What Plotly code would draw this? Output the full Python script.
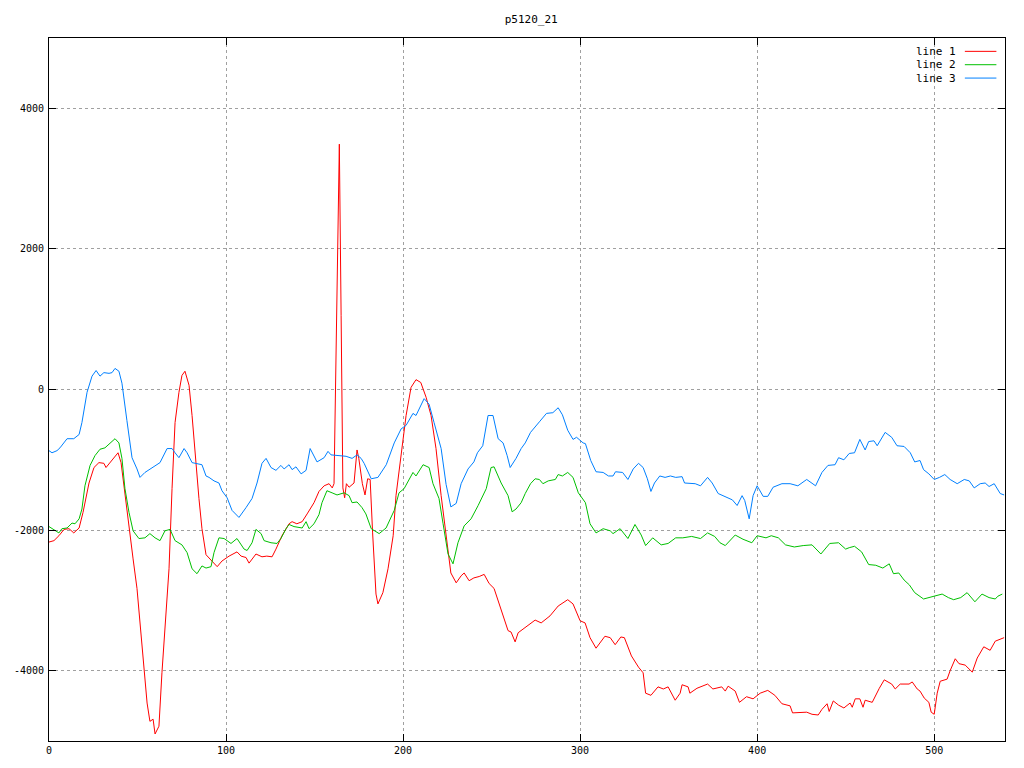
import plotly.graph_objects as go

title_text = "p5120_21"
series_names = ["line 1", "line 2", "line 3"]
series_colors = ["#ff0000", "#00c000", "#0080ff"]

x_ticks = [0, 100, 200, 300, 400, 500]
y_ticks = [-4000, -2000, 0, 2000, 4000]

# line 1 (red)
line1_x = [0, 2.8, 5.6, 8.5, 11.3, 14, 17, 19.2, 22.6, 25.4, 28.2, 31, 32.2, 34.5, 36.7, 39, 40.7, 42.9, 45.2, 47.5,
           49.7, 51.4, 53.7, 55.4, 57, 58.8, 59.9, 62.1, 63.8, 65.5, 67.8, 69.5, 71.2, 73.4, 75.1, 76.8, 79.1, 80.8,
           82.5, 84.7, 86.4, 88.7, 92, 95, 97.7, 101.7, 106.2, 108.5, 111.3, 113, 116.9, 120.3, 123, 126, 128.2,
           131.6, 135.6, 137.3, 140, 143, 145.8, 149.7, 152.5, 155.4, 158.2, 160, 161, 162, 163, 164, 165, 166, 167,
           168, 169.5, 172.3, 174, 175, 177, 178.5, 180, 181.4, 182.8, 184.7, 185.8, 188.6, 191.5, 194.4, 196,
           198.9, 201.7, 204.5, 207.3, 210, 213, 215.8, 218.6, 221.5, 224.3, 227, 230, 232.8, 234.5, 237.3, 240,
           243, 245.8, 248.6, 251.4, 255.4, 259.3, 261, 263.3, 265, 270.6, 274.6, 278, 283, 287.6, 293, 296, 300,
           302.8, 305.6, 309, 314, 317, 319.8, 323, 325, 329, 333, 335.6, 337, 340, 344, 347, 349.7, 353.7, 356.5,
           357.6, 361, 362, 366, 372, 375, 380, 382, 383.6, 387.6, 390, 394, 397.7, 401.7, 406, 410, 414, 418.6,
           420, 424, 428, 431, 434.5, 436.6, 439.5, 440.7, 443, 446, 449, 452.5, 453.7, 455.4, 458, 459.8, 461,
           465, 466.7, 469, 471.8, 476, 478, 480.8, 485.8, 487.6, 490.4, 492, 494.4, 497, 498.3, 500, 501.7, 503.4,
           507.3, 509, 511.9, 514, 517.5, 521.5, 524.3, 528, 531.6, 534.5, 539.5]
line1_y = [-2170, -2150, -2080, -1990, -1980, -2040, -1970, -1750, -1330, -1110, -1040, -1050, -1110, -1040, -980,
           -900, -1040, -1510, -1980, -2410, -2830, -3320, -4030, -4460, -4720, -4690, -4900, -4790, -4030, -3410,
           -2550, -1410, -470, -40, 200, 260, 60, -370, -940, -1550, -1980, -2350, -2440, -2520, -2440, -2370,
           -2310, -2370, -2390, -2470, -2340, -2380, -2370, -2380, -2270, -2080, -1910, -1880, -1910, -1880, -1770,
           -1610, -1450, -1370, -1340, -1400, -1340, 310, 2420, 3490, 1050, -1400, -1540, -1340, -1390, -1330, -860,
           -980, -1340, -1500, -1270, -1280, -2040, -2910, -3050, -2890, -2550, -2080, -1510, -940, -370, 30, 140,
           100, -110, -370, -840, -1510, -2080, -2610, -2750, -2650, -2610, -2720, -2680, -2660, -2630, -2760,
           -2830, -3120, -3430, -3450, -3590, -3460, -3360, -3280, -3320, -3220, -3080, -2990, -3050, -3290, -3320,
           -3530, -3680, -3510, -3530, -3630, -3520, -3530, -3790, -3950, -4030, -4320, -4350, -4230, -4260, -4230,
           -4420, -4320, -4200, -4230, -4320, -4250, -4190, -4260, -4230, -4290, -4220, -4290, -4450, -4370, -4400,
           -4320, -4280, -4350, -4470, -4500, -4600, -4590, -4590, -4620, -4630, -4550, -4470, -4580, -4430, -4490,
           -4530, -4460, -4520, -4400, -4400, -4520, -4420, -4450, -4360, -4250, -4130, -4190, -4260, -4190, -4190,
           -4160, -4260, -4290, -4390, -4450, -4590, -4620, -4320, -4150, -4120, -4000, -3830, -3900, -3920, -4020,
           -3820, -3660, -3710, -3580, -3530]

# line 2 (green)
line2_x = [0, 3.4, 5.6, 7.3, 10.2, 13, 14.7, 17, 18.6, 20.3, 23.2, 26, 28.8, 31.6, 34.5, 37.3, 39.5, 41.2, 42.9,
           45.2, 47.5, 50.8, 54.2, 57, 59.9, 62.7, 65.5, 68.4, 71.2, 75.1, 78, 80.8, 83.6, 86.4, 88.7, 91.5, 93.2,
           96, 98.9, 102.8, 106.2, 110.2, 111.9, 114.7, 116.9, 119.8, 121.5, 125.4, 128.8, 131, 133.9, 135.6, 138.4,
           143, 145.2, 146.9, 149.7, 152.5, 154.2, 157, 159.9, 162.7, 166.7, 169.5, 171.2, 174, 176.8, 179, 182,
           186.5, 190.4, 195, 197.7, 200.6, 205.6, 207.3, 211.3, 214.7, 216.9, 220.3, 222.6, 225.4, 228.2, 231,
           234.5, 238.4, 242.4, 247, 249.7, 251.4, 255.4, 259.3, 261.6, 263.8, 266.7, 269, 272, 274.6, 277, 279,
           282, 286, 287.6, 290, 293, 296, 299, 303, 305.6, 309, 313, 317, 318.6, 322.6, 327, 331, 334.5, 337, 341,
           345.8, 349.7, 354, 358, 363, 368, 372, 376, 379, 382, 387.6, 392, 397, 400, 405, 408, 412, 416, 421,
           426, 431, 436, 441, 446, 450, 452, 455, 459, 463, 467, 471, 474.6, 477, 480, 483, 486, 489, 494, 497,
           500, 504.5, 508, 511, 515, 518.6, 523, 527, 531, 534.5, 536, 538.5]
line2_y = [-1950, -2000, -2040, -1980, -1970, -1900, -1910, -1840, -1700, -1370, -1080, -940, -850, -830, -770,
           -700, -760, -980, -1410, -1750, -2010, -2120, -2110, -2050, -2110, -2150, -2010, -1990, -2150, -2210,
           -2320, -2550, -2620, -2510, -2540, -2520, -2320, -2110, -2120, -2190, -2120, -2270, -2290, -2180, -1990,
           -2050, -2150, -2180, -2190, -2120, -1980, -1920, -1950, -1970, -1880, -1980, -1910, -1780, -1610, -1440,
           -1470, -1500, -1470, -1510, -1610, -1600, -1680, -1770, -1980, -2050, -1970, -1720, -1470, -1410, -1180,
           -1230, -1070, -1110, -1340, -1550, -1910, -2340, -2480, -2180, -1940, -1840, -1650, -1410, -1110, -1100,
           -1330, -1510, -1740, -1700, -1610, -1480, -1340, -1270, -1280, -1340, -1300, -1280, -1210, -1230, -1180,
           -1250, -1470, -1610, -1910, -2040, -1980, -2010, -2050, -1980, -2120, -1920, -2070, -2220, -2110, -2210,
           -2190, -2110, -2110, -2090, -2120, -2040, -2090, -2180, -2220, -2070, -2130, -2180, -2080, -2110, -2080,
           -2110, -2210, -2240, -2220, -2210, -2340, -2190, -2180, -2270, -2250, -2230, -2310, -2490, -2500, -2540,
           -2480, -2620, -2610, -2710, -2780, -2890, -2980, -2960, -2950, -2910, -2960, -2990, -2960, -2890, -3020,
           -2910, -2960, -2980, -2940, -2910]

# line 3 (blue)
line3_x = [0, 1.7, 4.5, 6.2, 10.2, 14, 17, 18.6, 21.5, 24.3, 26.6, 28.8, 31, 33.9, 35.6, 37.3, 39.5, 41.2, 44,
           46.9, 49.7, 51.4, 54.2, 57, 59.3, 62.7, 66.7, 69.5, 71.2, 73.4, 76.3, 78, 80.8, 83.6, 86.4, 88.7, 90.4,
           93.2, 96, 97.7, 100.6, 103.4, 107.3, 111.3, 114.7, 117.5, 120.3, 122.6, 125.4, 128.2, 131, 132.8, 135.6,
           137.3, 139.5, 142.4, 145.2, 147.5, 151.4, 155.4, 157.6, 159.3, 162.7, 167.8, 171.2, 174, 176.3, 178,
           182, 185.8, 190.5, 195, 198.9, 201.7, 205.6, 207.3, 211.9, 214.7, 217.5, 221.5, 224.3, 227, 230, 232.8,
           236.7, 240, 242, 245, 248, 250.8, 253.7, 256.5, 258.8, 260.5, 263.8, 266.7, 269, 272, 277, 281, 284.6,
           287.6, 290, 293, 296, 298, 301.7, 303, 306, 309, 313, 316, 318.6, 320, 324, 327, 330, 333, 335.6, 338,
           340, 342, 345, 348, 351, 354, 357.6, 359, 365, 368, 372, 374.6, 378, 383.6, 386, 388.7, 391.5, 393,
           395.5, 397.7, 400, 403.4, 406, 409, 414, 418.6, 423, 428, 433, 436.6, 440, 444, 446, 449, 452, 455, 458,
           461, 463, 466, 467.8, 472.3, 476, 479, 483, 486.5, 489, 492, 494, 497, 500, 503, 506, 509, 513, 517,
           519.8, 522.6, 526, 528.8, 531, 533.9, 537.3, 539.5]
line3_y = [-870, -900, -870, -830, -700, -700, -640, -470, -40, 190, 270, 190, 240, 230, 240, 300, 260, 90, -440,
           -970, -1130, -1250, -1180, -1130, -1100, -1040, -840, -840, -900, -970, -840, -900, -1040, -1050, -1070,
           -1230, -1250, -1300, -1330, -1440, -1540, -1720, -1820, -1680, -1550, -1330, -1050, -980, -1110, -1150,
           -1080, -1130, -1070, -1140, -1100, -1200, -1150, -840, -1030, -970, -880, -930, -940, -950, -980, -930,
           -980, -1050, -1270, -1250, -1070, -760, -560, -510, -340, -370, -130, -210, -470, -840, -1350, -1670,
           -1620, -1340, -1130, -1030, -900, -800, -370, -370, -700, -760, -940, -1110, -980, -840, -760, -610,
           -460, -340, -330, -260, -360, -580, -710, -680, -760, -770, -1010, -1170, -1180, -1230, -1230, -1170,
           -1180, -1280, -1130, -1050, -1110, -1270, -1450, -1330, -1230, -1250, -1230, -1250, -1240, -1330, -1340,
           -1370, -1250, -1330, -1480, -1540, -1570, -1650, -1510, -1580, -1840, -1510, -1370, -1520, -1520, -1390,
           -1340, -1340, -1370, -1280, -1370, -1180, -1080, -1070, -970, -1000, -910, -900, -710, -860, -740, -730,
           -800, -610, -680, -800, -810, -900, -1030, -1010, -1140, -1200, -1280, -1250, -1210, -1280, -1340, -1280,
           -1300, -1400, -1340, -1330, -1380, -1340, -1480, -1500]

xs = [line1_x, line2_x, line3_x]
ys = [line1_y, line2_y, line3_y]

font_family = "DejaVu Sans Mono, monospace"

fig = go.Figure()
for name, color, x, y in zip(series_names, series_colors, xs, ys):
    fig.add_trace(go.Scatter(x=x, y=y, mode="lines", name=name,
                             line=dict(color=color, width=1), showlegend=False))

# gnuplot-style key: label then sample line, top right inside the plot
key_rows = [0.981, 0.962, 0.943]
for name, color, ky in zip(series_names, series_colors, key_rows):
    fig.add_annotation(x=0.951, y=ky, xref="paper", yref="paper", text=name,
                       showarrow=False, xanchor="right", yanchor="middle",
                       font=dict(family=font_family, size=11, color="black"))
    fig.add_shape(type="line", xref="paper", yref="paper", x0=0.958, x1=0.991, y0=ky, y1=ky,
                  line=dict(color=color, width=1))

axis_common = dict(showline=True, linecolor="black", linewidth=1, mirror="allticks",
                   ticks="inside", ticklen=7, tickcolor="black", tickwidth=1,
                   showgrid=True, gridcolor="#a0a0a0", griddash="dot", gridwidth=1,
                   zeroline=False, tickfont=dict(family=font_family, size=10, color="black"))

fig.update_xaxes(range=[0, 540], tickvals=x_ticks, ticktext=[str(v) for v in x_ticks], **axis_common)
fig.update_yaxes(range=[-5000, 5000], tickvals=y_ticks, ticktext=[str(v) for v in y_ticks],
                 ticklabelstandoff=2, **axis_common)

fig.update_layout(
    width=1016, height=760,
    margin=dict(l=41, r=19, t=30, b=27, autoexpand=False),
    paper_bgcolor="white", plot_bgcolor="white",
    title=dict(text=title_text, x=0.515, xanchor="center", y=0.985, yanchor="middle",
               font=dict(family=font_family, size=11, color="black")),
)

fig.write_html("out.html")
